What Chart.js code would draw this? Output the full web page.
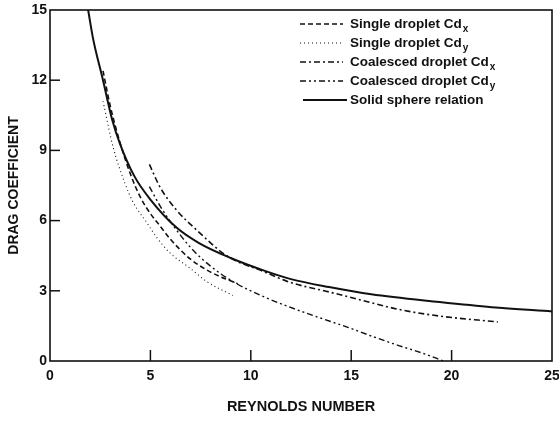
<!DOCTYPE html>
<html><head><meta charset="utf-8">
<script src="https://cdn.jsdelivr.net/npm/chart.js@4/dist/chart.umd.min.js"></script>
<style>html,body{margin:0;padding:0;background:#fff}#wrap{width:559px;height:422px}</style>
</head><body><div id="wrap"><canvas id="c" width="559" height="422"></canvas></div>
<script>
// Tick values
const xTicks = [0, 5, 10, 15, 20, 25];
const yTicks = [0, 3, 6, 9, 12, 15];

// Single droplet Cd_x (dashed)
const singleXRe = [2.64, 3.0, 3.5, 4.0, 4.5, 5.0, 5.5, 6.0, 7.0, 8.0, 9.35];
const singleXCd = [12.4, 10.9, 9.3, 8.0, 7.0, 6.3, 5.75, 5.2, 4.35, 3.8, 3.3];

// Single droplet Cd_y (dotted)
const singleYRe = [2.64, 3.14, 3.73, 4.13, 4.83, 5.33, 6.0, 7.0, 7.8, 9.1];
const singleYCd = [11.1, 9.15, 7.6, 6.8, 5.9, 5.26, 4.6, 3.95, 3.4, 2.8];

// Coalesced droplet Cd_x (dash-dot)
const coalXRe = [4.95, 5.5, 6.3, 7.3, 8.8, 10.7, 12.0, 13.9, 15.5, 17.4, 19.4, 22.3];
const coalXCd = [8.4, 7.4, 6.45, 5.6, 4.5, 3.8, 3.35, 2.95, 2.6, 2.2, 1.92, 1.67];

// Coalesced droplet Cd_y (dash-dot-dot)
const coalYRe = [4.95, 5.5, 6.0, 7.0, 8.0, 9.1, 10.5, 11.95, 13.45, 14.8, 15.9, 17.4, 18.5, 19.6];
const coalYCd = [7.45, 6.6, 5.95, 4.85, 4.05, 3.4, 2.8, 2.3, 1.84, 1.45, 1.1, 0.65, 0.35, 0.0];

// Solid sphere relation (solid)
const solidRe = [1.9, 2.14, 2.64, 3.1, 3.5, 4.2, 5.0, 6.3, 7.4, 9.0, 10.7, 12.0, 13.9, 16.0, 19.4, 22.0, 25.0];
const solidCd = [15.0, 13.8, 12.0, 10.3, 9.25, 7.9, 6.9, 5.7, 5.05, 4.4, 3.85, 3.5, 3.16, 2.85, 2.52, 2.3, 2.12];

const legendNames = ['Single droplet Cd', 'Single droplet Cd', 'Coalesced droplet Cd', 'Coalesced droplet Cd', 'Solid sphere relation'];
const legendSubs = ['x', 'y', 'x', 'y', ''];

const INK = '#111';
const pts = (xs, ys) => xs.map((x, i) => ({x: x, y: ys[i]}));

const styles = [
  {dash: [5, 3], width: 1.6},
  {dash: [1, 3], width: 1.1},
  {dash: [6, 3, 2, 3], width: 1.6},
  {dash: [6, 3, 2, 3, 2, 3], width: 1.4},
  {dash: [], width: 2}
];
const seriesData = [
  pts(singleXRe, singleXCd),
  pts(singleYRe, singleYCd),
  pts(coalXRe, coalXCd),
  pts(coalYRe, coalYCd),
  pts(solidRe, solidCd)
];

const datasets = seriesData.map((d, i) => ({
  label: legendNames[i] + legendSubs[i],
  data: d,
  borderColor: INK,
  borderWidth: styles[i].width,
  borderDash: styles[i].dash,
  pointRadius: 0,
  fill: false,
  cubicInterpolationMode: 'monotone'
}));

const FONT = '"Liberation Sans", Arial, sans-serif';

const decor = {
  id: 'decor',
  afterDatasetsDraw(chart) {
    const ctx = chart.ctx;
    const a = chart.chartArea;
    const xs = chart.scales.x, ys = chart.scales.y;
    ctx.save();
    ctx.strokeStyle = INK;
    ctx.setLineDash([]);
    ctx.lineWidth = 1.6;
    ctx.strokeRect(a.left, a.top, a.right - a.left, a.bottom - a.top);
    // inner tick marks
    ctx.lineWidth = 1.5;
    xTicks.forEach(v => {
      if (v === 0 || v === 25) return;
      const px = xs.getPixelForValue(v);
      ctx.beginPath(); ctx.moveTo(px, a.bottom); ctx.lineTo(px, a.bottom - 11); ctx.stroke();
    });
    yTicks.forEach(v => {
      if (v === 0 || v === 15) return;
      const py = ys.getPixelForValue(v);
      ctx.beginPath(); ctx.moveTo(a.left, py); ctx.lineTo(a.left + 10, py); ctx.stroke();
    });
    // legend
    const lx0 = 300, lx1 = 343, tx = 350;
    const rowY = [24, 43, 62, 81, 100];
    ctx.fillStyle = INK;
    ctx.textBaseline = 'middle';
    ctx.textAlign = 'left';
    rowY.forEach((y, i) => {
      ctx.lineWidth = styles[i].width;
      ctx.setLineDash(styles[i].dash);
      ctx.beginPath();
      ctx.moveTo(i === 4 ? lx0 + 3 : lx0, y);
      ctx.lineTo(i === 4 ? lx1 + 4 : lx1, y);
      ctx.stroke();
      ctx.setLineDash([]);
      ctx.font = 'bold 13.5px ' + FONT;
      ctx.fillText(legendNames[i], tx, y);
      if (legendSubs[i]) {
        const w = ctx.measureText(legendNames[i]).width;
        ctx.font = 'bold 10px ' + FONT;
        ctx.fillText(legendSubs[i], tx + w + 1, y + 5);
      }
    });
    ctx.restore();
  }
};

new Chart(document.getElementById('c'), {
  type: 'line',
  data: {datasets: datasets},
  options: {
    responsive: false,
    devicePixelRatio: 1,
    animation: false,
    layout: {padding: {top: 10, right: 7, left: 0, bottom: 0}},
    plugins: {legend: {display: false}, tooltip: {enabled: false}},
    scales: {
      x: {
        type: 'linear', min: 0, max: 25,
        afterBuildTicks: s => { s.ticks = xTicks.map(v => ({value: v})); },
        afterFit: s => { s.height = 61; s.paddingLeft = 0; s.paddingRight = 0; },
        grid: {display: false, drawTicks: false},
        border: {display: false},
        ticks: {color: INK, font: {family: FONT, size: 14, weight: 'bold'}, padding: 7, maxRotation: 0, autoSkip: false},
        title: {display: true, text: 'REYNOLDS NUMBER', color: INK, font: {family: FONT, size: 14.5, weight: 'bold'}, padding: {top: 0, bottom: 6}}
      },
      y: {
        type: 'linear', min: 0, max: 15,
        afterBuildTicks: s => { s.ticks = yTicks.map(v => ({value: v})); },
        afterFit: s => { s.width = 50; s.paddingTop = 0; s.paddingBottom = 0; },
        grid: {display: false, drawTicks: false},
        border: {display: false},
        ticks: {color: INK, font: {family: FONT, size: 14, weight: 'bold'}, padding: 3, autoSkip: false},
        title: {display: true, text: 'DRAG COEFFICIENT', color: INK, font: {family: FONT, size: 14, weight: 'bold'}, padding: {top: 6, bottom: 0}}
      }
    }
  },
  plugins: [decor]
});
</script>
</body></html>
